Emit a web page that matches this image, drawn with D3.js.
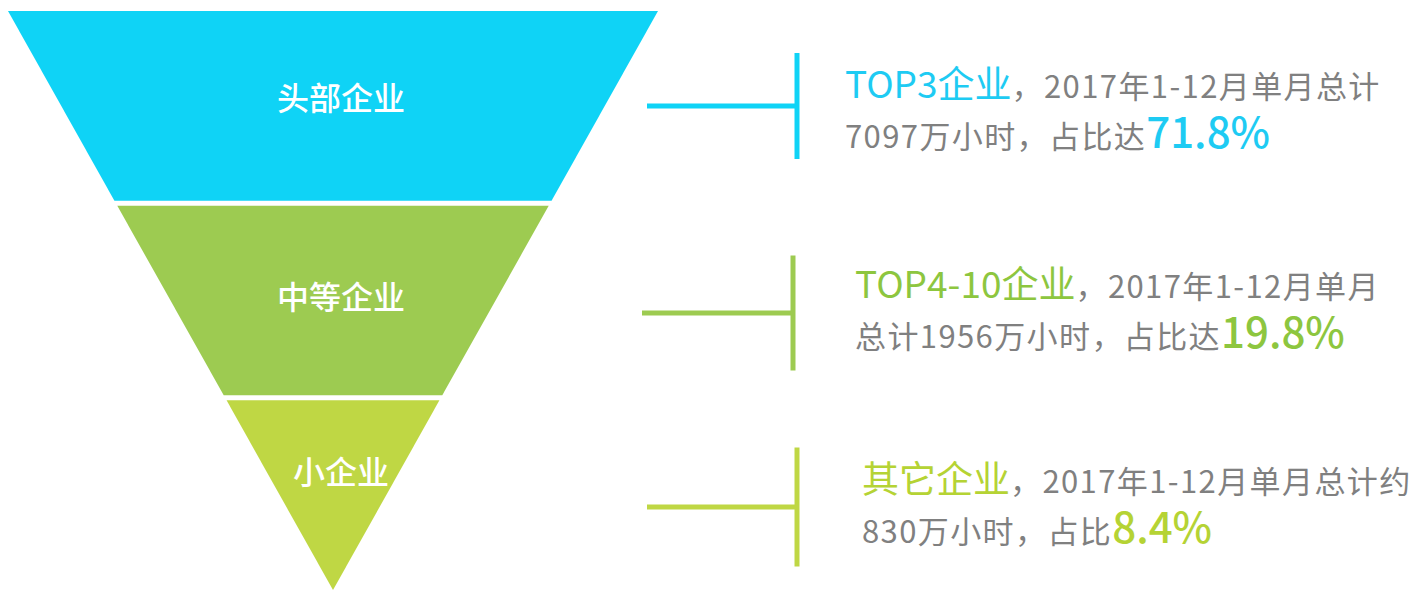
<!DOCTYPE html>
<html><head><meta charset="utf-8">
<script src="https://cdn.jsdelivr.net/npm/d3@7"></script>
<style>body{margin:0;background:#fff;} svg{display:block;}</style>
</head><body><svg id="chart" width="1418" height="590"></svg>
<script>
// ---- data ----
const categories = ["头部企业", "中等企业", "小企业"];
const highlights = ["TOP3企业", "TOP4-10企业", "其它企业"];
const hours = [7097, 1956, 830];
const shares = [71.8, 19.8, 8.4];
const line1Tail = ["，2017年1-12月单月总计", "，2017年1-12月单月", "，2017年1-12月单月总计约"];
const line2Head = ["", "总计", ""];
const line2Tail = ["万小时，占比达", "万小时，占比达", "万小时，占比"];
const fillColors = ["#0fd3f6", "#9dcb51", "#bfd744"];
const textColors = ["#1ecbf3", "#8dc63f", "#b5d334"];

// ---- layout ----
const cx = 333, topY = 11, botY = 590, topHalf = 325;
const labelDy = [-4, 5, 6];
const callout = [
  {cy: 106, x0: 647, vx: 797, vh: 106, tx: 845, b1: 98},
  {cy: 313, x0: 642, vx: 793, vh: 115, tx: 855, b1: 298},
  {cy: 507, x0: 647, vx: 797, vh: 119, tx: 862, b1: 493}
];
const font = "'Noto Sans CJK SC', 'Noto Sans', sans-serif";
const greySize = 31, greySpacing = 1.4;

const svg = d3.select("#chart");

const y = d3.scaleBand().domain(categories).range([topY, botY]).paddingInner(0.026);
const half = d3.scaleLinear().domain([topY, botY]).range([topHalf, 0]);

const bands = categories.map((c, i) => {
  const y0 = y(c), y1 = y0 + y.bandwidth();
  const a = 2 * half(y0), b = 2 * half(y1), h = y1 - y0;
  const cyd = y0 + h * (a + 2 * b) / (3 * (a + b));
  return {c, i, y0, y1, cyd};
});

svg.selectAll("polygon.band").data(bands).join("polygon")
  .attr("class", "band")
  .attr("points", d => [
    [cx - half(d.y0), d.y0], [cx + half(d.y0), d.y0],
    [cx + half(d.y1), d.y1], [cx - half(d.y1), d.y1]
  ].map(p => p.join(",")).join(" "))
  .attr("fill", d => fillColors[d.i]);

svg.selectAll("text.blabel").data(bands).join("text")
  .attr("class", "blabel")
  .attr("x", cx + 8)
  .attr("y", d => d.cyd + labelDy[d.i])
  .attr("text-anchor", "middle")
  .attr("dominant-baseline", "central")
  .attr("fill", "#fff")
  .attr("font-family", font)
  .attr("font-weight", 500)
  .attr("font-size", 32)
  .text(d => d.c);

// callouts
const g = svg.selectAll("g.callout").data(categories).join("g").attr("class", "callout");
g.append("line")
  .attr("x1", (d, i) => callout[i].x0).attr("x2", (d, i) => callout[i].vx)
  .attr("y1", (d, i) => callout[i].cy).attr("y2", (d, i) => callout[i].cy)
  .attr("stroke", (d, i) => fillColors[i]).attr("stroke-width", 5);
g.append("line")
  .attr("x1", (d, i) => callout[i].vx).attr("x2", (d, i) => callout[i].vx)
  .attr("y1", (d, i) => callout[i].cy - callout[i].vh / 2)
  .attr("y2", (d, i) => callout[i].cy + callout[i].vh / 2)
  .attr("stroke", (d, i) => fillColors[i]).attr("stroke-width", 5);

g.each(function(d, i) {
  const gg = d3.select(this);
  const t1 = gg.append("text")
    .attr("x", callout[i].tx).attr("y", callout[i].b1)
    .attr("font-family", font).attr("fill", "#808080").attr("font-size", greySize);
  t1.append("tspan").attr("fill", textColors[i]).attr("font-size", 37)
    .text(highlights[i]);
  t1.append("tspan").attr("letter-spacing", greySpacing).text(line1Tail[i]);

  const t2 = gg.append("text")
    .attr("x", callout[i].tx).attr("y", callout[i].b1 + 50)
    .attr("font-family", font).attr("fill", "#808080").attr("font-size", greySize);
  t2.append("tspan").attr("letter-spacing", greySpacing)
    .text(line2Head[i] + hours[i] + line2Tail[i]);
  t2.append("tspan").attr("fill", textColors[i]).attr("font-size", 42)
    .attr("font-weight", 500).attr("letter-spacing", 0)
    .text(shares[i] + "%");
});
</script></body></html>
